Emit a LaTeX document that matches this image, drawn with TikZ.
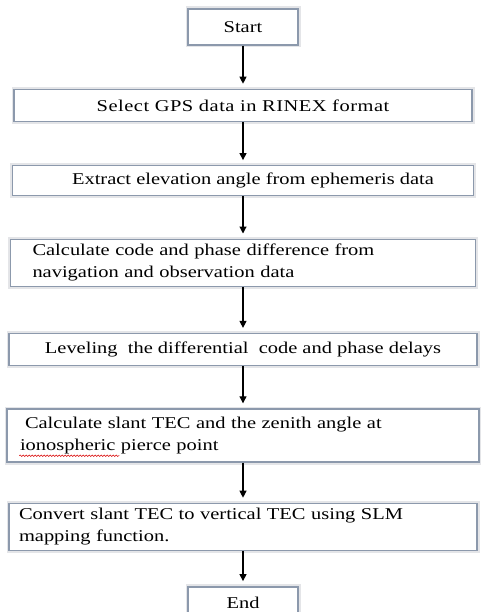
\documentclass[tikz,border=0pt]{standalone}
\usepackage{fontspec}
\setmainfont[FakeStretch=1.24]{Liberation Serif}
\usepackage{tikz}
\usetikzlibrary{positioning,arrows.meta,decorations.pathmorphing}
\definecolor{frameline}{RGB}{140,153,172}
\definecolor{framehalo}{RGB}{228,229,232}

\begin{document}
\begin{tikzpicture}[
  x=1pt, y=-1pt,
  font=\fontsize{16.5}{22}\selectfont,
  stepbox/.style={rectangle,draw=frameline,line width=1.4pt,fill=white,
    preaction={draw=framehalo,line width=5pt},inner sep=0pt,align=center},
  textbox/.style={stepbox,align=left,inner xsep=#1},
  arrow/.style={-{Triangle[length=7pt,width=7pt]},line width=1.1pt,shorten >=5pt},
  squiggle/.style={red!85!black,line width=0.5pt,
    decorate,decoration={snake,amplitude=0.8pt,segment length=3pt}}
]
\useasboundingbox (0,0) rectangle (480,612);

\node[stepbox,minimum width=110pt,minimum height=36pt] (start) at (243,27) {Start};
\node[stepbox,minimum width=458pt,minimum height=32pt,below=43pt of start] (select)
  {\addfontfeatures{LetterSpace=3}Select GPS data in RINEX format};
\node[stepbox,minimum width=461pt,minimum height=30pt,below=43pt of select] (extract)
  {\hspace*{20pt}Extract elevation\ angle\ from ephemeris\ data};
\node[textbox=22pt,text width=421pt,minimum height=47pt,below=42pt of extract] (diffs)
  {Calculate\ code and phase difference from\\ navigation and observation data};
\node[stepbox,minimum width=468pt,minimum height=32pt,below=46pt of diffs] (leveling)
  {Leveling\ \ the differential\ \ code and phase delays};
\node[textbox=13pt,text width=446pt,minimum height=53pt,below=42pt of leveling] (slant)
  {\hspace*{5pt}Calculate slant TEC and the zenith angle at\\ ionospheric pierce point};
\node[textbox=10pt,text width=448pt,minimum height=47pt,below=40pt of slant] (convert)
  {Convert slant TEC to vertical TEC using SLM\\ mapping function.};
\node[stepbox,minimum width=110pt,minimum height=33pt,below=35pt of convert] (stop) {End};

% spell-check mark under "ionospheric"
\draw[squiggle] ([xshift=13pt,yshift=7pt]slant.south west) -- ++(100,0);

\draw[arrow] (start) -- (select);
\draw[arrow] (select) -- (extract);
\draw[arrow] (extract) -- (diffs);
\draw[arrow] (diffs) -- (leveling);
\draw[arrow] (leveling) -- (slant);
\draw[arrow] (slant) -- (convert);
\draw[arrow] (convert) -- (stop);
\end{tikzpicture}
\end{document}
